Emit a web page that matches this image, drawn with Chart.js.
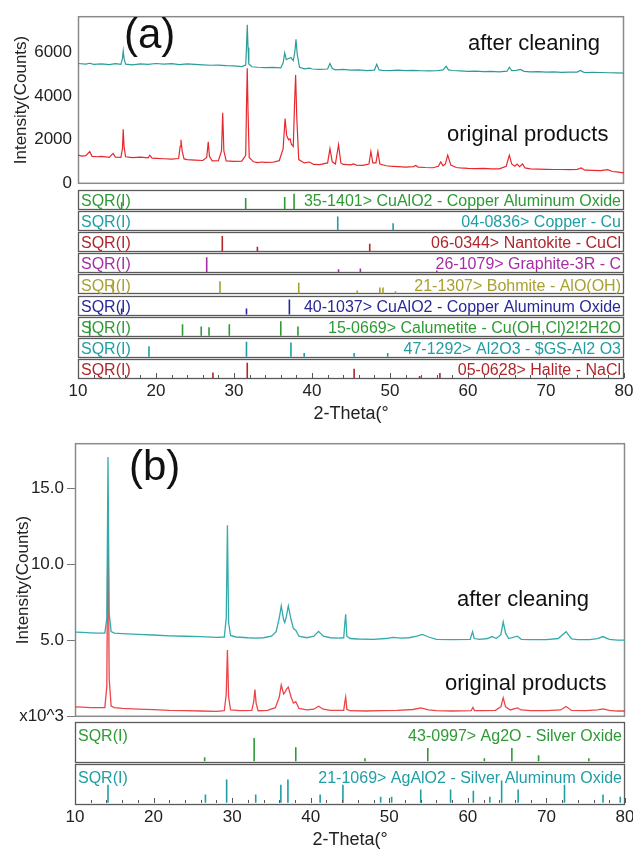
<!DOCTYPE html>
<html><head><meta charset="utf-8">
<script src="https://cdn.jsdelivr.net/npm/chart.js@4.4.1/dist/chart.umd.min.js"></script>
<style>
html,body{margin:0;padding:0;background:#fff;}
#wrap{position:relative;width:633px;height:849px;overflow:hidden;font-family:'Liberation Sans',Arial,sans-serif;color:#111;}
canvas{position:absolute;left:0;}
.t{position:absolute;white-space:nowrap;line-height:1;color:#111;}
</style></head><body>
<div id="wrap">
<canvas id="aMain" width="633" height="200" style="top:0"></canvas>
<canvas id="aRows" width="633" height="240" style="top:188px"></canvas>
<canvas id="bMain" width="633" height="300" style="top:430px"></canvas>
<canvas id="bRows" width="633" height="133" style="top:719px"></canvas>
<div class="t" style="left:124px;top:13px;font-size:42px">(a)</div>
<div class="t" style="left:468px;top:32px;font-size:22px">after cleaning</div>
<div class="t" style="left:447px;top:123px;font-size:22px">original products</div>
<div class="t" style="left:129px;top:445px;font-size:42px">(b)</div>
<div class="t" style="left:457px;top:588px;font-size:22px">after cleaning</div>
<div class="t" style="left:445px;top:672px;font-size:22px">original products</div>
</div>
<script>
// ---------------- DATA ----------------
const xTickLabels = ['10','20','30','40','50','60','70','80'];
const seriesNames = ['after cleaning','original products'];

// Panel (a): 2-theta (deg), intensity (counts)
const aAfterCleaning = [[10,5470],[11,5440],[11.5,5480],[12,5430],[13,5450],[14,5420],[14.8,5460],[15.5,5430],[15.7,5700],[15.8,6040],[15.9,5700],[16.1,5440],[17,5410],[18,5450],[19,5430],[20,5470],[21,5440],[22,5460],[23,5420],[24,5450],[25,5430],[26,5410],[27,5390],[28,5400],[29,5370],[30,5360],[31,5330],[31.5,5400],[31.6,6200],[31.7,7230],[31.8,6200],[31.9,5450],[32.3,5320],[33,5300],[34,5280],[35,5290],[36,5270],[36.3,5500],[36.5,5950],[36.7,5650],[37.0,5700],[37.3,5740],[37.6,5600],[37.8,6000],[37.95,6570],[38.1,5900],[38.4,5300],[39,5230],[39.7,5260],[40,5220],[41,5200],[42,5220],[42.3,5470],[42.6,5240],[43,5180],[44,5200],[45,5170],[46,5180],[47,5150],[48,5170],[48.3,5430],[48.6,5180],[49,5160],[50,5150],[51,5170],[52,5150],[53,5160],[54,5140],[55,5130],[56,5140],[56.8,5180],[57.2,5340],[57.5,5180],[58,5150],[59,5130],[60,5110],[61,5120],[62,5100],[63,5110],[64,5090],[65,5120],[65.3,5300],[65.6,5150],[66.2,5160],[66.7,5200],[67.2,5110],[68,5090],[69,5100],[70,5080],[71,5090],[72,5070],[73,5080],[74,5080],[74.4,5150],[74.8,5080],[75,5060],[76,5070],[77,5060],[78,5050],[79,5040],[80,5030]];
const aOriginal = [[10,1300],[10.5,1260],[11,1280],[11.5,1470],[11.8,1250],[12.5,1230],[13,1250],[14,1200],[14.5,1380],[14.8,1210],[15.5,1200],[15.7,1600],[15.8,2480],[15.9,1700],[16.1,1230],[17,1190],[18,1210],[19,1180],[19.2,1300],[19.5,1170],[20,1160],[21,1140],[22,1120],[22.9,1150],[23.1,1700],[23.2,2000],[23.35,1500],[23.6,1130],[24,1100],[25,1080],[26,1060],[26.5,1200],[26.7,1910],[26.85,1250],[27.2,1040],[28,1050],[28.4,1500],[28.55,3230],[28.7,1500],[29,1040],[30,1020],[31,1030],[31.5,1300],[31.6,3500],[31.7,5250],[31.8,3300],[31.95,1200],[32.5,1000],[33,960],[33.5,990],[34,970],[35,980],[35.8,1050],[36.3,1600],[36.55,2970],[36.75,2200],[37.0,2000],[37.2,2040],[37.35,1800],[37.6,1700],[37.75,3500],[37.9,4950],[38.05,3000],[38.3,1100],[39,950],[39.7,990],[40.2,880],[41,870],[42,950],[42.3,1600],[42.6,1000],[43,900],[43.4,1780],[43.7,950],[44,880],[45,860],[45.3,900],[45.7,850],[46.5,840],[47.3,900],[47.55,1470],[47.8,950],[48.2,950],[48.45,1470],[48.7,900],[49.5,820],[50,800],[51,780],[52,760],[53,780],[53.3,830],[53.6,760],[54.5,740],[55.5,730],[56.2,800],[56.5,990],[56.8,820],[57.1,900],[57.4,1300],[57.8,850],[58.5,740],[59,720],[60,700],[61,690],[62,700],[63,680],[64,680],[64.9,800],[65.3,1300],[65.6,900],[66,800],[66.3,900],[66.6,780],[67,900],[67.3,720],[68,680],[69,670],[70,660],[71,650],[72,650],[73,640],[74,660],[74.5,720],[75,620],[76,610],[77,600],[77.9,640],[78.5,560],[79,540],[80,500]];
const aYTicks = [0,2000,4000,6000];
const aYTickLabels = ['0','2000','4000','6000'];

// Panel (a) reference patterns: [2-theta, relative intensity %]
const pdf351401 = [[15.6,45],[31.5,73],[36.5,80],[37.7,100]];
const pdf040836 = [[43.3,90],[50.4,45]];
const pdf060344 = [[28.5,100],[33.0,30],[47.4,50]];
const pdf261079 = [[26.5,100],[43.4,20],[46.2,25],[56.0,12]];
const pdf211307 = [[14.5,80],[28.2,80],[38.3,70],[45.8,20],[48.7,40],[49.1,40],[50.7,15]];
const pdf401037 = [[15.6,40],[31.6,40],[37.1,100]];
const pdf150669 = [[11.5,100],[23.4,75],[25.8,60],[26.8,55],[29.4,75],[36.0,95],[38.2,60]];
const pdf471292 = [[19.1,70],[31.6,100],[37.3,95],[39.0,25],[45.4,25],[49.7,25]];
const pdf050628 = [[27.3,35],[31.7,100],[45.4,60],[53.8,12],[56.4,33]];
const aPatternNames = ['35-1401> CuAlO2 - Copper Aluminum Oxide','04-0836> Copper - Cu','06-0344> Nantokite - CuCl','26-1079> Graphite-3R - C','21-1307> Bohmite - AlO(OH)','40-1037> CuAlO2 - Copper Aluminum Oxide','15-0669> Calumetite - Cu(OH,Cl)2!2H2O','47-1292> Al2O3 - $GS-Al2 O3','05-0628> Halite - NaCl'];
const aPatterns = [pdf351401,pdf040836,pdf060344,pdf261079,pdf211307,pdf401037,pdf150669,pdf471292,pdf050628];

// Panel (b): 2-theta (deg), intensity (x10^3 counts)
const bAfterCleaning = [[10,5.57],[11,5.55],[12,5.52],[13,5.5],[13.8,5.5],[14.05,6.5],[14.2,17.1],[14.35,6.8],[14.6,5.6],[15,5.5],[16,5.47],[18,5.42],[20,5.38],[22,5.33],[24,5.3],[26,5.27],[28,5.23],[29,5.25],[29.25,6.5],[29.4,12.6],[29.55,6.2],[29.8,5.35],[30.5,5.25],[32,5.2],[33,5.18],[34,5.2],[35,5.3],[35.6,5.6],[36.0,6.5],[36.25,7.3],[36.55,6.4],[36.7,6.2],[36.9,6.6],[37.15,7.3],[37.5,6.4],[37.8,5.8],[38.1,5.7],[38.5,5.3],[39.5,5.2],[40.4,5.3],[41.0,5.62],[41.6,5.3],[42.5,5.2],[43.5,5.18],[44.2,5.2],[44.35,6.2],[44.45,6.75],[44.6,5.3],[45,5.15],[46,5.12],[48,5.1],[49.5,5.15],[50.5,5.23],[51.5,5.18],[52.5,5.2],[53.5,5.3],[54.2,5.42],[55,5.25],[56,5.1],[58,5.08],[60.3,5.1],[60.6,5.6],[60.8,5.15],[61.5,5.1],[62.5,5.15],[63.1,5.28],[63.6,5.15],[64.2,5.4],[64.5,6.25],[64.8,5.5],[65.2,5.15],[66.3,5.3],[66.8,5.1],[68,5.08],[70,5.08],[71.5,5.15],[72.5,5.6],[73.2,5.12],[74,5.08],[75.5,5.08],[76.5,5.15],[77.2,5.28],[78,5.1],[79,5.05],[80,5.05]];
const bOriginal = [[10,0.65],[11,0.63],[12,0.6],[13,0.6],[13.8,0.6],[14.05,2],[14.2,13.6],[14.35,2.5],[14.6,0.7],[15,0.6],[16,0.55],[18,0.5],[20,0.47],[22,0.42],[24,0.4],[26,0.38],[28,0.36],[29,0.4],[29.25,1.5],[29.4,4.4],[29.55,1.3],[29.8,0.45],[31,0.4],[32.5,0.42],[32.75,1.0],[32.9,1.8],[33.05,0.9],[33.3,0.4],[34.5,0.42],[35.5,0.6],[36.0,1.3],[36.25,2.1],[36.55,1.5],[36.7,1.6],[36.9,1.8],[37.15,1.95],[37.5,1.3],[37.8,0.9],[38.1,1.0],[38.5,0.55],[39.5,0.45],[40.4,0.5],[41.0,0.7],[41.6,0.5],[42.5,0.42],[44.2,0.42],[44.35,1.0],[44.45,1.3],[44.6,0.5],[45,0.4],[47,0.38],[49,0.4],[51,0.42],[53,0.48],[54,0.58],[55,0.45],[56,0.4],[58,0.38],[60.4,0.4],[60.65,0.62],[60.85,0.4],[62,0.4],[63.5,0.42],[64.2,0.65],[64.5,1.25],[64.8,0.65],[65.4,0.45],[66.3,0.58],[66.8,0.45],[68,0.4],[70,0.4],[71.8,0.45],[72.5,0.68],[73.2,0.42],[75,0.4],[76.5,0.45],[77.2,0.52],[78,0.42],[79,0.38],[80,0.38]];
const bYTicks = [0,5,10,15];
const bYTickLabels = ['x10^3','5.0','10.0','15.0'];

const pdf430997 = [[26.5,17],[32.8,100],[38.1,60],[46.9,13],[54.9,57],[62.1,13],[65.6,57],[69.0,26],[75.4,13]];
const pdf211069 = [[14.2,78],[26.6,35],[29.3,100],[33.0,35],[36.2,78],[37.1,100],[41.2,35],[44.1,78],[48.9,26],[50.3,26],[54.0,57],[57.8,57],[60.7,52],[62.8,26],[64.3,96],[66.4,57],[72.3,78],[77.2,35],[79.4,26]];
const bPatternNames = ['43-0997> Ag2O - Silver Oxide','21-1069> AgAlO2 - Silver Aluminum Oxide'];
const bPatterns = [pdf430997,pdf211069];

// ---------------- STYLE ----------------
const aRowColors = ['#2e9a36','#1f9ea3','#b0262b','#a52ea5','#a8a030','#28289a','#2e9a36','#1f9ea3','#b0262b'];
const bRowColors = ['#2e9a36','#1f9ea3'];
const FONT = "'Liberation Sans', Arial, sans-serif";
Chart.defaults.font.family = FONT;
Chart.defaults.color = '#222';

const toXY = arr => arr.map(p => ({x:p[0], y:p[1]}));

const framePlugin = {id:'frame', beforeDatasetsDraw(chart, args, o){
  const {ctx, chartArea:a} = chart; ctx.save(); ctx.strokeStyle=o.color; ctx.lineWidth=o.width;
  ctx.strokeRect(a.left+0.5, a.top+0.5, a.width-1, a.height-1); ctx.restore(); }};

const rowsPlugin = {id:'rows',
  beforeDatasetsDraw(chart, args, o){
    const {ctx, chartArea:a, scales:{y}} = chart; const n=o.names.length; ctx.save();
    ctx.strokeStyle=o.border; ctx.lineWidth=o.lineWidth;
    for(let i=0;i<n;i++){ const top=y.getPixelForValue(n-i)+o.gap/2, bot=y.getPixelForValue(n-i-1)-o.gap/2;
      ctx.strokeRect(a.left+0.5, Math.round(top)+0.5, a.width-1, Math.round(bot-top)); }
    ctx.restore(); },
  afterDatasetsDraw(chart, args, o){
    const {ctx, chartArea:a, scales:{y}} = chart; const n=o.names.length; ctx.save();
    ctx.font = o.fontSize+'px '+FONT; ctx.textBaseline='alphabetic';
    for(let i=0;i<n;i++){ const top=y.getPixelForValue(n-i)+o.gap/2, bot=y.getPixelForValue(n-i-1)-o.gap/2;
      const base = o.fromTop!=null ? top+o.fromTop : bot-o.fromBottom;
      ctx.fillStyle=o.colors[i];
      ctx.textAlign='left'; ctx.fillText('SQR(I)', a.left+3, base);
      ctx.textAlign='right'; ctx.fillText(o.names[i], a.right-3, base); }
    ctx.restore(); }};

const innerTicks = {id:'innerTicks', afterDatasetsDraw(chart, args, o){
  const x=chart.scales.x, a=chart.chartArea, ctx=chart.ctx; ctx.save(); ctx.strokeStyle=o.color; ctx.lineWidth=1;
  x.ticks.forEach(t=>{ const px=Math.round(x.getPixelForValue(t.value))+0.5; const len=(t.value%10===0)?o.major:o.minor;
    ctx.beginPath(); ctx.moveTo(px,a.bottom-1); ctx.lineTo(px,a.bottom-1-len); ctx.stroke(); });
  ctx.restore(); }};

function stickDatasets(patterns, colors, baseOff, scale){
  const n = patterns.length;
  return patterns.map((pat,i)=>{ const rb = n-i-1; const d=[];
    pat.forEach(([pos,inten])=>{ d.push({x:pos,y:rb+baseOff},{x:pos,y:rb+baseOff+inten/100*scale},{x:pos,y:null}); });
    return {data:d, borderColor:colors[i], borderWidth:1.6, pointRadius:0, spanGaps:false, fill:false, tension:0}; });
}

function mainChart(id, datasets, yopts, pad, yWidth, titlePad, frameColor){
  return new Chart(document.getElementById(id), {
    type:'line', data:{datasets},
    options:{responsive:false, animation:false, devicePixelRatio:1, layout:{padding:pad},
      plugins:{legend:{display:false}, tooltip:{enabled:false}, frame:{color:frameColor, width:1.5}},
      scales:{
        x:{type:'linear', min:10, max:80, display:false},
        y:Object.assign({type:'linear', position:'left', afterFit(s){s.width=yWidth;},
          border:{display:false},
          title:{display:true, text:'Intensity(Counts)', font:{size:17}, color:'#222', padding:{top:titlePad, bottom:0}}}, yopts)
      }},
    plugins:[framePlugin]});
}

// Panel (a) main
mainChart('aMain', [
  {label:seriesNames[0], data:toXY(aAfterCleaning), borderColor:'#2a9d9a', borderWidth:1.2, pointRadius:0, tension:0},
  {label:seriesNames[1], data:toXY(aOriginal), borderColor:'#e8272d', borderWidth:1.2, pointRadius:0, tension:0}
], {min:0, max:7620, grid:{display:false, drawTicks:false},
    afterBuildTicks(s){ s.ticks = aYTicks.map(v=>({value:v})); },
    ticks:{font:{size:17}, color:'#222', padding:6, includeBounds:false,
      callback:(v)=>{ const k=aYTicks.indexOf(v); return k>=0?aYTickLabels[k]:''; }}},
  {top:13, right:9, bottom:14, left:0}, 78, 11, '#8a8a8a');

// Panel (b) main
mainChart('bMain', [
  {label:seriesNames[0], data:toXY(bAfterCleaning), borderColor:'#33abab', borderWidth:1.3, pointRadius:0, tension:0},
  {label:seriesNames[1], data:toXY(bOriginal), borderColor:'#ee4448', borderWidth:1.3, pointRadius:0, tension:0}
], {min:0, max:18, grid:{display:true, drawOnChartArea:false, drawTicks:true, tickLength:8, color:'#777'},
    afterBuildTicks(s){ s.ticks = bYTicks.map(v=>({value:v})); },
    ticks:{font:{size:17}, color:'#222', padding:3, includeBounds:false, callback:(v)=>{ const k=bYTicks.indexOf(v); return k>=0?bYTickLabels[k]:''; }}},
  {top:5, right:8, bottom:12, left:0}, 75, 13, '#8a8a8a');

function rowsChart(id, patterns, names, colors, pad, xHeight, baseOff, scale, rowOpts, tickPad, titlePad){
  return new Chart(document.getElementById(id), {
    type:'line', data:{datasets:stickDatasets(patterns, colors, baseOff, scale)},
    options:{responsive:false, animation:false, devicePixelRatio:1, layout:{padding:pad},
      plugins:{legend:{display:false}, tooltip:{enabled:false},
        rows:Object.assign({names, colors, border:'#5a5a5a', lineWidth:1.3}, rowOpts),
        innerTicks:{color:'#555', major:5, minor:3}},
      scales:{
        x:{type:'linear', min:10, max:80, position:'bottom',
          afterFit(s){ s.height=xHeight; s.paddingLeft=0; s.paddingRight=0; },
          grid:{display:false, drawTicks:false}, border:{display:false},
          ticks:{stepSize:2, autoSkip:false, maxRotation:0, font:{size:17}, color:'#222', padding:tickPad, includeBounds:false,
            callback:(v)=>{ const k=xTickLabels.indexOf(String(v)); return k>=0?xTickLabels[k]:''; }},
          title:{display:true, text:'2-Theta(°', font:{size:18}, color:'#222', padding:{top:0, bottom:titlePad}}},
        y:{type:'linear', min:0, max:patterns.length, display:false}
      }},
    plugins:[rowsPlugin, innerTicks]});
}

rowsChart('aRows', aPatterns, aPatternNames, aRowColors, {top:1, right:9, bottom:0, left:78}, 49, 0.05, 0.72,
  {gap:2, fontSize:16, fromBottom:3}, 2, 3);
rowsChart('bRows', bPatterns, bPatternNames, bRowColors, {top:2, right:8, bottom:0, left:75}, 48, 0.03, 0.56,
  {gap:2, fontSize:16, fromTop:19}, 3, 1);
</script>
</body></html>
